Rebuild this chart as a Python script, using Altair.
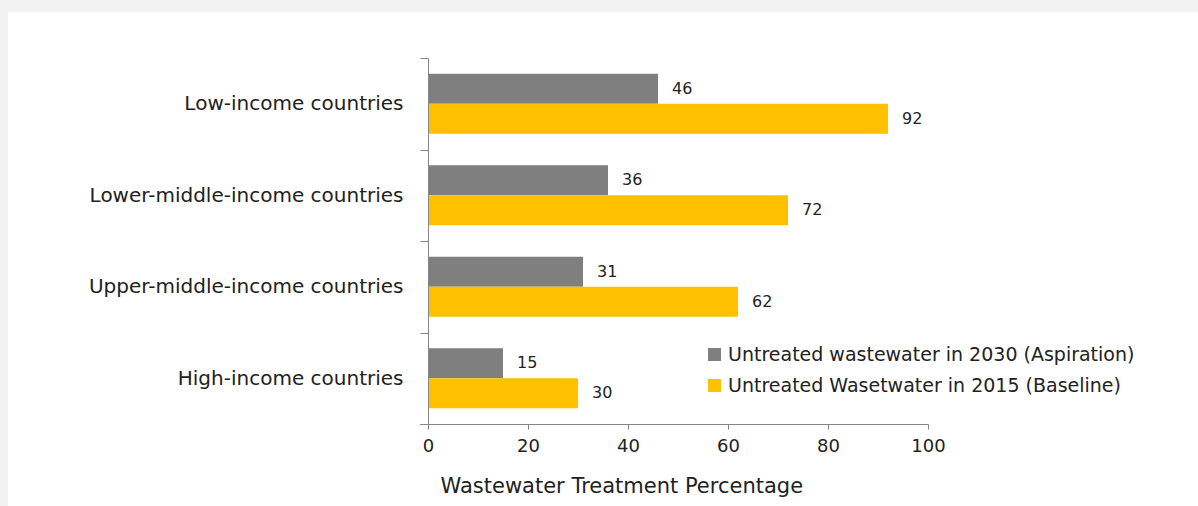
import altair as alt
import pandas as pd

categories = [
    "Low-income countries",
    "Lower-middle-income countries",
    "Upper-middle-income countries",
    "High-income countries",
]
series_names = [
    "Untreated wastewater in 2030 (Aspiration)",
    "Untreated Wasetwater in 2015 (Baseline)",
]
aspiration_2030 = [46, 36, 31, 15]
baseline_2015 = [92, 72, 62, 30]
x_ticks = [0, 20, 40, 60, 80, 100]
colors = ["#7f7f7f", "#ffc000"]

rows = []
for c, a, b in zip(categories, aspiration_2030, baseline_2015):
    rows.append({"category": c, "series": series_names[0], "value": a})
    rows.append({"category": c, "series": series_names[1], "value": b})
df = pd.DataFrame(rows)

FONT = "DejaVu Sans"
TXT = "#222222"
AX = "#868686"

bg = alt.Chart(pd.DataFrame({"a": [0]})).mark_rect(color="white").encode(
    x=alt.value(-420), x2=alt.value(770), y=alt.value(-46), y2=alt.value(448)
)

x_enc = alt.X(
    "value:Q",
    scale=alt.Scale(domain=[0, 100], nice=False),
    axis=alt.Axis(
        values=x_ticks,
        title="Wastewater Treatment Percentage",
        grid=False,
        zindex=1,
        labelFlush=False,
        domainColor=AX,
        tickColor=AX,
        tickSize=5,
        labelFontSize=18,
        labelColor=TXT,
        labelPadding=8,
        titleFontSize=21,
        titleFontWeight="normal",
        titleColor=TXT,
        titleAnchor="start",
        titleAlign="left",
        titleX=12,
        titleY=51,
        titleBaseline="top",
    ),
)
y_enc = alt.Y(
    "category:N",
    sort=categories,
    scale=alt.Scale(paddingInner=0, paddingOuter=0),
    axis=alt.Axis(
        title=None,
        grid=False,
        zindex=1,
        tickBand="extent",
        domainColor=AX,
        tickColor=AX,
        tickSize=8,
        labelFontSize=20,
        labelColor=TXT,
        labelPadding=17,
        labelLimit=400,
    ),
)

base = alt.Chart(df).encode(
    x=x_enc,
    y=y_enc,
    yOffset=alt.YOffset(
        "series:N",
        sort=series_names,
        scale=alt.Scale(paddingInner=0, paddingOuter=0.525),
    ),
)

bars = base.mark_bar().encode(
    color=alt.Color(
        "series:N",
        sort=series_names,
        scale=alt.Scale(domain=series_names, range=colors),
        legend=alt.Legend(
            title=None,
            orient="none",
            legendX=277,
            legendY=287,
            symbolType="square",
            symbolSize=169,
            symbolStrokeWidth=0,
            labelFontSize=19,
            labelColor=TXT,
            labelOffset=4,
            rowPadding=11,
            padding=0,
            labelLimit=500,
        ),
    )
)

labels = base.mark_text(
    align="left", baseline="middle", dx=14, fontSize=16, color=TXT, font=FONT
).encode(text="value:Q")

# closing tick at the bottom edge of the last category band
last_tick = (
    alt.Chart(pd.DataFrame({"category": [categories[-1]]}))
    .mark_rule(color=AX, strokeWidth=1, yOffset=0.5)
    .encode(
        y=alt.Y("category:N", sort=categories, bandPosition=1),
        x=alt.value(-8),
        x2=alt.value(0),
    )
)

chart = (
    alt.layer(bg, bars, labels, last_tick)
    .properties(
        width=500,
        height=366,
        background="#f2f2f2",
        padding={"left": 428, "top": 58, "right": 270, "bottom": 82},
        autosize=alt.AutoSizeParams(type="none"),
    )
    .configure(font=FONT)
    .configure_view(stroke=None)
)

chart.save("out.html", embed_options={"renderer": "svg", "actions": False})
